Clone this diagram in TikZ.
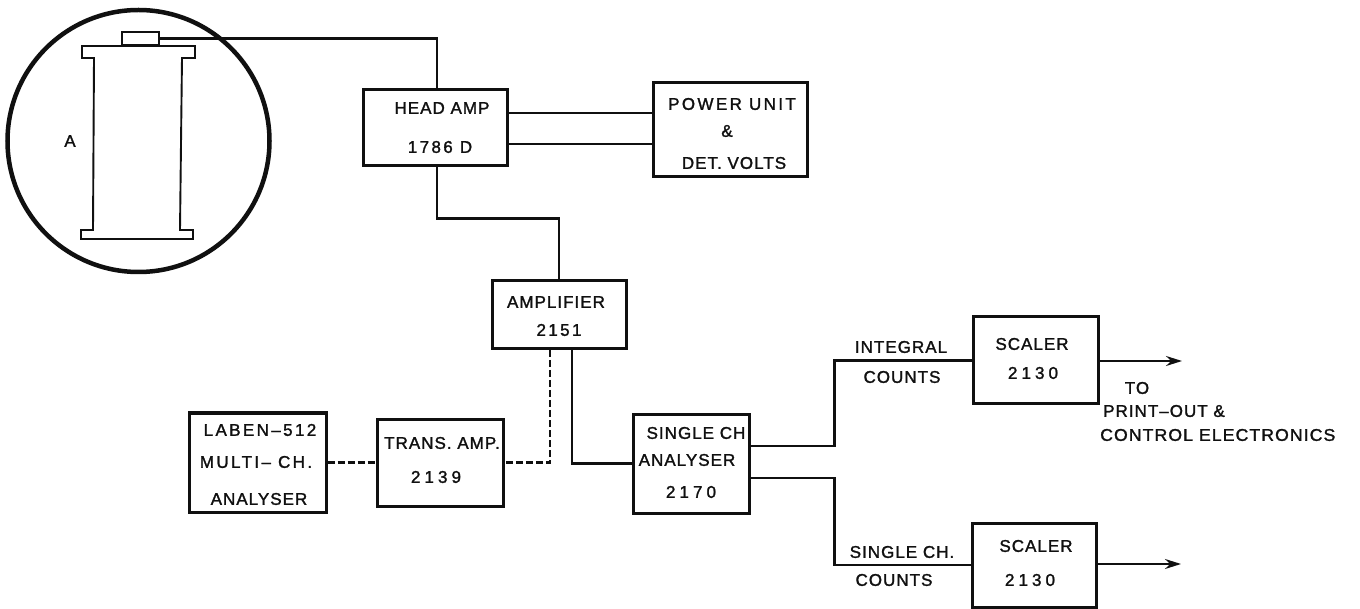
\documentclass[tikz,border=0pt]{standalone}
\usepackage{fontspec}
\setmainfont[LetterSpace=6,FakeBold=1.5]{Liberation Sans}
\newfontfamily\widefont[LetterSpace=14,FakeBold=1.5]{Liberation Sans}
\newfontfamily\numfont[LetterSpace=24,FakeBold=1.5]{Liberation Sans}
\usepackage{tikz}
\usetikzlibrary{arrows.meta,positioning,calc}
\definecolor{cInk}{HTML}{101010}
\tikzset{
  blk/.style ={draw=cInk,line width=3pt,fill=white,inner sep=0pt},
  lbl/.style ={font=\fontsize{17}{20}\selectfont,text=cInk,inner sep=0pt},
  wide/.style={lbl,font=\fontsize{17}{20}\selectfont\widefont},
  num/.style ={lbl,font=\fontsize{17}{20}\selectfont\numfont},
  part/.style={draw=cInk,line width=1.9pt},
  sig/.style ={draw=cInk,line width=2.2pt},
  fib/.style ={sig,line width=2.4pt,dash pattern=on 7pt off 3pt},
  ph/.style  ={sig,-{Stealth[length=16pt,width=10pt]}},
}
\begin{document}
\begin{tikzpicture}[x=1pt,y=-1pt]
\useasboundingbox (0,0) rectangle (1360,609);

% chamber and detector
\draw[draw=cInk,line width=4.5pt] (138.5,141) circle (131);
\draw[part] (94,58) -- (82,58) -- (82,46) -- (195,46) -- (195,58) -- (182,58)
  -- (180,230) -- (193,230) -- (193,239) -- (81,239) -- (81,230) -- (93,230) -- cycle;
\node[part,inner sep=0pt,minimum width=37,minimum height=13] (cap) at (140.5,38.5) {};
\node[lbl] (lblA) at (70,141) {A};

% boxes
\node[blk,minimum width=144,minimum height=76] (head) at (435,128) {};
\node[blk,minimum width=154,minimum height=94] (power) at (730,130) {};
\node[blk,minimum width=134,minimum height=68] (amp) at (559,314.5) {};
\node[blk,minimum width=137,minimum height=99] (laben) at (257.5,462.5) {};
\node[blk,minimum width=126,minimum height=87] (trans) at (440,462.5) {};
\node[blk,minimum width=116,minimum height=99] (single) at (691,463.5) {};
\node[blk,minimum width=125,minimum height=87] (scalerA) at (1035.5,360.5) {};
\node[blk,minimum width=124,minimum height=84] (scalerB) at (1034,565) {};

% box texts
\node[lbl] (headA) at (442,108) {HEAD AMP};
\node[wide] (headB) at (440,147) {1786 D};
\node[wide] (powerA) at (732,104) {POWER UNIT};
\node[lbl] (powerB) at (727,131) {\&};
\node[lbl] (powerC) at (734,163) {DET. VOLTS};
\node[lbl] (ampA) at (556,302) {AMPLIFIER};
\node[wide] (ampB) at (559,330) {2151};
\node[wide] (labenA) at (260,430) {LABEN–512};
\node[wide] (labenB) at (256,462) {MULTI– CH.};
\node[lbl] (labenC) at (259,499) {ANALYSER};
\node[lbl] (transA) at (442,443) {TRANS. AMP.};
\node[num] (transB) at (436,477) {2139};
\node[lbl] (singleA) at (696,433) {SINGLE CH};
\node[lbl] (singleB) at (687,460) {ANALYSER};
\node[num] (singleC) at (691,492) {2170};
\node[lbl] (scalerAa) at (1032,344) {SCALER};
\node[num] (scalerAb) at (1033,373) {2130};
\node[lbl] (scalerBa) at (1036,546) {SCALER};
\node[num] (scalerBb) at (1030,580) {2130};

% labels on the lines
\node[lbl] (intA) at (901,347) {INTEGRAL};
\node[lbl] (intB) at (902,377) {COUNTS};
\node[lbl] (chA) at (902,552) {SINGLE CH.};
\node[lbl] (chB) at (894,580) {COUNTS};
\node[lbl] (toA) at (1137,388) {TO};
\node[lbl,anchor=west] (toB) at (1103,411) {PRINT–OUT \&};
\node[lbl,anchor=west,xscale=1.04] (toC) at (1100,435) {CONTROL ELECTRONICS};

% free ends of the two outputs
\coordinate (endA) at (1182,361);
\coordinate (endB) at (1181,564);

% connectors
\draw[sig] (cap.east) -| ([xshift=2pt]head.north);
\draw[sig] (head.east |- 0,113) -- (power.west |- 0,113);
\draw[sig] (head.east |- 0,144) -- (power.west |- 0,144);
\draw[sig] ([xshift=2pt]head.south) -- ++(0,51) -| (amp.north);
\draw[sig] ([xshift=13pt]amp.south) |- (single.west);
\draw[fib] ([xshift=-9pt]amp.south) |- (trans.east);
\draw[fib] (laben.east |- trans.east) -- (trans.west);
\draw[sig] (single.east |- 0,446) -- ++(84,0) |- (scalerA.west);
\draw[sig] (single.east |- 0,478) -- ++(84,0) |- (scalerB.west);
\draw[ph] (scalerA.east |- endA) -- (endA);
\draw[ph] (scalerB.east |- endB) -- (endB);
\end{tikzpicture}
\end{document}
